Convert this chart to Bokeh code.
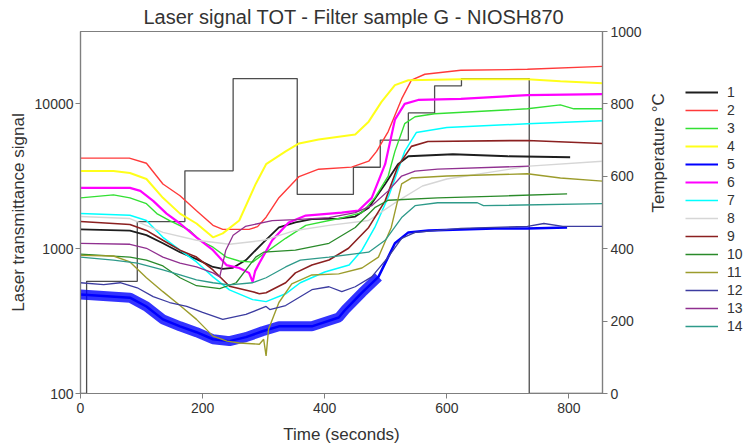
import math
import numpy as np
from bokeh.plotting import figure
from bokeh.layouts import row
from bokeh.models import (Range1d, LinearAxis, LinearScale, FixedTicker, PrintfTickFormatter,
                          Legend, LegendItem)
from bokeh.embed import file_html
from bokeh.resources import INLINE

FONT = "Liberation Sans"
TEXT = "#333333"
AXIS = "#7f7f7f"

# Oven temperature program (°C), each value holds until the next breakpoint
temp_time = [0, 10, 93, 171, 250, 355, 447, 491, 537, 580, 624, 735, 855]
temp_degc = [0, 310, 475, 615, 870, 550, 625, 700, 775, 850, 870, 0, 0]

# Laser transmittance signal of the 14 runs (time in s, signal in counts)
time_1 = [0, 81, 108, 135, 163, 190, 217, 233, 249, 271, 298, 325, 352, 379, 423, 450, 472, 499, 520, 537, 610, 700, 802]
signal_1 = [1360, 1335, 1240, 1090, 946, 848, 748, 725, 736, 835, 1090, 1402, 1520, 1600, 1615, 1667, 1920, 2800, 3835, 4350, 4490, 4350, 4280]

time_2 = [0, 80, 108, 135, 163, 190, 217, 233, 276, 290, 304, 325, 358, 390, 444, 472, 485, 504, 526, 542, 564, 623, 732, 855]
signal_2 = [4220, 4220, 3890, 2800, 2320, 1830, 1450, 1360, 1360, 1420, 1650, 2250, 3150, 3540, 3660, 4020, 4700, 6440, 10820, 14580, 16020, 17060, 17330, 18170]

time_3 = [0, 54, 81, 108, 125, 146, 179, 195, 217, 239, 260, 282, 304, 336, 369, 423, 461, 482, 504, 515, 531, 548, 580, 732, 786, 808, 855]
signal_3 = [2245, 2355, 2245, 2045, 1747, 1565, 1337, 1143, 1024, 875, 822, 808, 946, 1180, 1450, 1615, 1775, 2245, 3175, 4700, 7300, 8150, 8550, 9250, 9840, 9250, 9250]

time_4 = [0, 54, 81, 108, 135, 163, 190, 217, 233, 260, 287, 304, 336, 358, 390, 450, 472, 493, 515, 537, 623, 732, 786, 855]
signal_4 = [3435, 3435, 3330, 3030, 2245, 1747, 1493, 1198, 1276, 1565, 2800, 3835, 4700, 5330, 5680, 6140, 7540, 10320, 13480, 14580, 14820, 14820, 14360, 13900]

time_5 = [0, 81, 108, 135, 163, 190, 217, 244, 271, 298, 325, 379, 423, 434, 461, 488, 515, 537, 570, 678, 732, 797]
signal_5 = [482, 459, 399, 325, 291, 265, 237, 230, 245, 269, 291, 291, 335, 380, 497, 639, 1090, 1296, 1337, 1380, 1380, 1402]

time_6 = [0, 81, 98, 119, 141, 163, 190, 217, 239, 260, 276, 282, 286, 293, 314, 341, 369, 428, 455, 477, 499, 515, 531, 553, 623, 732, 855]
signal_6 = [2630, 2630, 2508, 2140, 1747, 1493, 1198, 977, 771, 736, 681, 590, 700, 796, 1143, 1517, 1693, 1775, 1830, 2245, 3835, 7780, 10000, 10650, 10820, 11510, 11700]

time_7 = [0, 81, 108, 135, 163, 190, 217, 244, 282, 304, 336, 360, 400, 440, 461, 482, 505, 531, 550, 600, 732, 855]
signal_7 = [1747, 1700, 1565, 1198, 977, 810, 639, 520, 445, 431, 488, 582, 690, 771, 977, 1402, 2320, 4700, 6340, 6860, 7300, 7650]

time_8 = [0, 81, 135, 190, 244, 300, 352, 407, 472, 520, 560, 600, 735, 855]
signal_8 = [1667, 1615, 1296, 1143, 1073, 1143, 1337, 1450, 1565, 2140, 2710, 3030, 3720, 4020]

time_9 = [0, 81, 108, 135, 163, 190, 217, 244, 282, 293, 304, 336, 352, 379, 407, 439, 472, 499, 520, 542, 569, 732, 855]
signal_9 = [1540, 1470, 1337, 1143, 977, 875, 713, 550, 505, 489, 497, 582, 681, 771, 835, 1007, 1402, 2140, 3720, 5090, 5500, 5590, 5330]

time_10 = [0, 81, 108, 135, 163, 190, 228, 255, 271, 287, 300, 352, 407, 450, 482, 504, 585, 700, 797]
signal_10 = [917, 875, 835, 760, 630, 555, 530, 582, 714, 875, 946, 977, 1090, 1402, 1920, 2160, 2245, 2320, 2390]

time_11 = [0, 54, 81, 108, 135, 163, 190, 217, 240, 260, 293, 300, 304, 308, 325, 346, 379, 423, 461, 488, 509, 526, 542, 600, 732, 786, 855]
signal_11 = [900, 890, 810, 630, 505, 405, 325, 249, 230, 223, 219, 237, 182, 278, 425, 572, 659, 670, 736, 875, 1402, 2800, 3075, 3175, 3290, 3075, 2930]

time_12 = [0, 38, 65, 93, 119, 146, 174, 200, 233, 271, 304, 310, 336, 379, 407, 428, 450, 477, 504, 526, 548, 623, 732, 759, 790, 855]
signal_12 = [582, 565, 582, 537, 467, 425, 399, 363, 325, 352, 399, 380, 405, 521, 546, 505, 546, 639, 875, 1180, 1296, 1380, 1425, 1493, 1425, 1425]

time_13 = [0, 81, 108, 135, 163, 190, 217, 228, 238, 250, 270, 314, 352, 407, 450, 477, 504, 526, 548, 585, 735]
signal_13 = [1090, 1073, 1007, 875, 796, 748, 681, 639, 977, 1237, 1425, 1565, 1590, 1640, 1775, 1982, 2508, 3175, 3435, 3540, 3720]

time_14 = [0, 54, 93, 135, 163, 190, 217, 244, 282, 304, 336, 360, 407, 472, 499, 526, 548, 585, 650, 660, 855]
signal_14 = [875, 835, 796, 714, 659, 610, 582, 563, 582, 630, 748, 835, 875, 946, 1143, 1640, 1982, 2077, 2077, 1982, 2045]

series_labels = [str(i) for i in range(1, 15)]
series_colors = ["#1e1e1e", "#ff3a3a", "#33e033", "#ffff1a", "#0000ff", "#ff00ff", "#00ffff",
                 "#d6d6d6", "#8b2020", "#2a8a2a", "#9c9c2c", "#3c3ca0", "#903090", "#2e9a8a"]
series_widths = [1.8, 1.4, 1.4, 2.0, 2.5, 2.2, 1.5, 1.4, 1.6, 1.3, 1.4, 1.3, 1.3, 1.3]
series_data = [(time_1, signal_1), (time_2, signal_2), (time_3, signal_3), (time_4, signal_4),
               (time_5, signal_5), (time_6, signal_6), (time_7, signal_7), (time_8, signal_8),
               (time_9, signal_9), (time_10, signal_10), (time_11, signal_11), (time_12, signal_12),
               (time_13, signal_13), (time_14, signal_14)]

p = figure(width=680, height=446, y_axis_type="log",
           x_range=Range1d(0, 855), y_range=Range1d(100, 31623),
           output_backend="svg", toolbar_location=None,
           min_border_left=80, min_border_right=75, min_border_top=30, min_border_bottom=51)

p.title.text = "Laser signal TOT - Filter sample G - NIOSH870"
p.title.text_font = FONT
p.title.text_font_size = "20px"
p.title.text_font_style = "normal"
p.title.text_color = TEXT
p.title.align = "left"
p.title.offset = 63
p.title.standoff = 7

p.xgrid.visible = False
p.ygrid.visible = False
p.outline_line_color = AXIS
p.outline_line_width = 1.2
p.background_fill_color = "white"
p.border_fill_color = "white"

# secondary linear range for the oven temperature
p.extra_y_ranges = {"temp": Range1d(0, 1000)}
p.extra_y_scales = {"temp": LinearScale()}

def style_axis(ax):
    ax.axis_line_color = AXIS
    ax.axis_line_width = 1.2
    ax.major_tick_line_color = AXIS
    ax.major_tick_out = 5
    ax.major_tick_in = 0
    ax.minor_tick_line_color = None
    ax.major_label_text_font = FONT
    ax.major_label_text_font_size = "14px"
    ax.major_label_text_color = TEXT
    ax.axis_label_text_font = FONT
    ax.axis_label_text_font_size = "17px"
    ax.axis_label_text_font_style = "normal"
    ax.axis_label_text_color = TEXT

xa = p.xaxis[0]
style_axis(xa)
xa.ticker = FixedTicker(ticks=[0, 200, 400, 600, 800])
xa.axis_label = "Time (seconds)"
xa.major_label_standoff = 4
xa.axis_label_standoff = 9

ya = p.yaxis[0]
style_axis(ya)
ya.ticker = FixedTicker(ticks=[100, 1000, 10000])
ya.formatter = PrintfTickFormatter(format="%d")
ya.axis_label = "Laser transmittance signal"
ya.major_label_standoff = 2
ya.axis_label_standoff = 4

ta = LinearAxis(y_range_name="temp", ticker=FixedTicker(ticks=[0, 200, 400, 600, 800, 1000]),
                axis_label="Temperature °C")
style_axis(ta)
ta.major_label_standoff = 3
ta.axis_label_standoff = 14
ta.axis_label_orientation = math.pi / 2
p.add_layout(ta, "right")

# temperature step profile
p.step(temp_time, temp_degc, mode="after", y_range_name="temp",
       line_color="#4d4d4d", line_width=1.3)

for label, (t, s), color, width in zip(series_labels, series_data, series_colors, series_widths):
    p.line(t, s, line_color=color, line_width=width)
    if label == "5":
        # the noisy signal forms a wide band until the oxygen phase
        t_arr = np.array(t)
        s_arr = np.array(s)
        keep = t_arr <= 490
        p.line(t_arr[keep], s_arr[keep], line_color=color, line_width=10, line_alpha=0.8)

# key panel to the right of the chart; its view range lies outside the data,
# so only the legend entries show
key = figure(width=63, height=446, output_backend="svg", toolbar_location=None,
             x_range=Range1d(-2, -1), y_range=Range1d(-2, -1),
             x_axis_location=None, y_axis_location=None,
             min_border_left=0, min_border_right=0, min_border_top=0, min_border_bottom=0)
key.outline_line_color = None
key.xgrid.visible = False
key.ygrid.visible = False
key.background_fill_color = "white"
key.border_fill_color = "white"

items = []
for label, (t, s), color, width in zip(series_labels, series_data, series_colors, series_widths):
    r = key.line(t, s, line_color=color, line_width=min(width, 2.0))
    items.append(LegendItem(label=label, renderers=[r]))

legend = Legend(items=items, location=(5, 58), orientation="vertical")
legend.border_line_alpha = 0
legend.background_fill_alpha = 0
legend.padding = 0
legend.margin = 0
legend.spacing = 0
legend.glyph_width = 33
legend.glyph_height = 18
legend.label_height = 18
legend.label_width = 14
legend.label_standoff = 9
legend.label_text_font = FONT
legend.label_text_font_size = "14px"
legend.label_text_color = TEXT
key.add_layout(legend, "center")

layout = row(p, key, spacing=0)
open("out.html", "w").write(file_html(layout, INLINE))
